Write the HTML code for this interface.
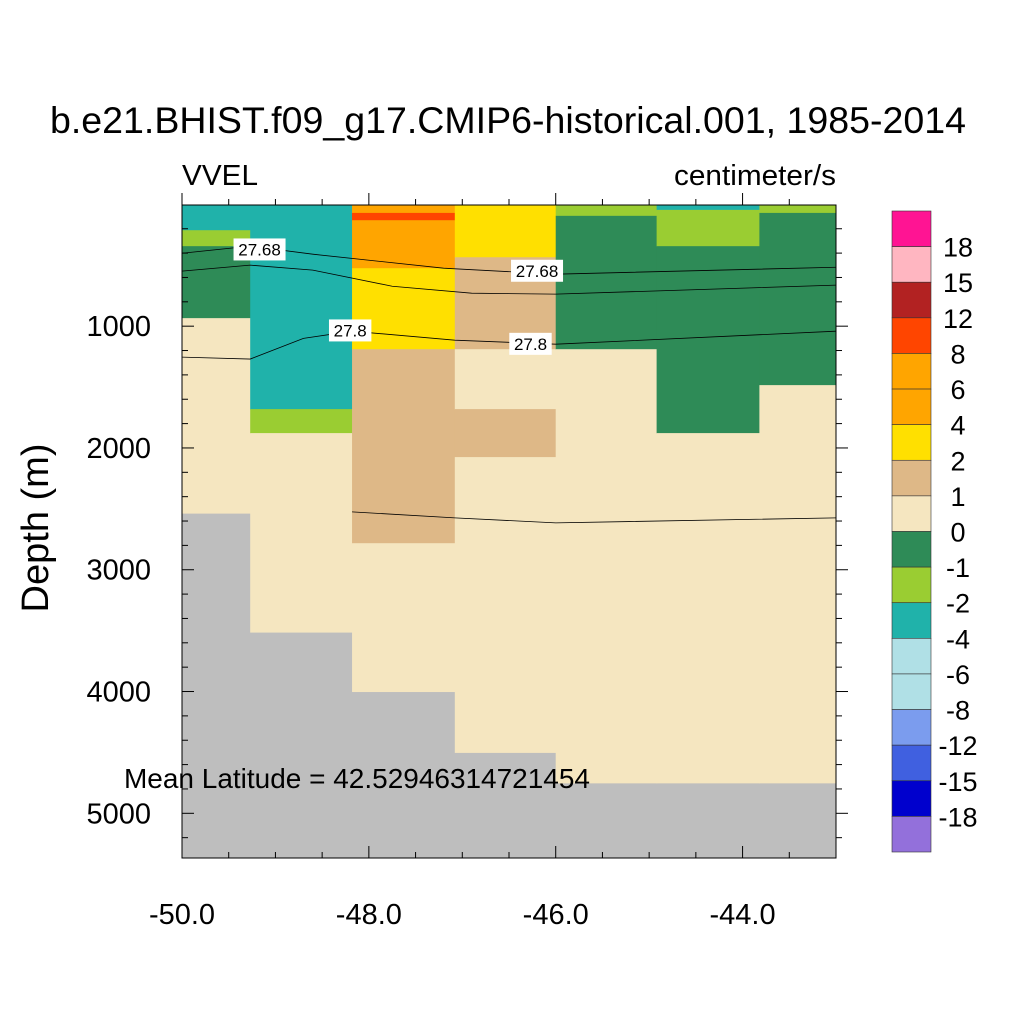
<!DOCTYPE html>
<html><head><meta charset="utf-8"><style>
body{margin:0;background:#fff;}
svg text{font-family:"Liberation Sans",sans-serif;fill:#000;}
</style></head><body>
<svg id="chart" width="1024" height="1024" viewBox="0 0 1024 1024" xmlns="http://www.w3.org/2000/svg">
<text x="508" y="133" font-size="37" text-anchor="middle" textLength="916" lengthAdjust="spacingAndGlyphs">b.e21.BHIST.f09_g17.CMIP6-historical.001, 1985-2014</text>
<text x="182" y="185" font-size="29" textLength="76" lengthAdjust="spacingAndGlyphs">VVEL</text>
<text x="836" y="185" font-size="29" text-anchor="end" textLength="162" lengthAdjust="spacingAndGlyphs">centimeter/s</text>
<text x="48" y="528" font-size="38" text-anchor="middle" transform="rotate(-90 48 528)">Depth (m)</text>
<g id="plot"></g>
<g id="axes"></g>
<g id="cbar"></g>
<text x="124" y="788" font-size="28" textLength="466" lengthAdjust="spacingAndGlyphs">Mean Latitude = 42.52946314721454</text>
</svg>
<script>
const NS="http://www.w3.org/2000/svg";
const cbLabels=["18","15","12","8","6","4","2","1","0","-1","-2","-4","-6","-8","-12","-15","-18"];
const cbColors=["#ff1493","#ffb6c1","#b22222","#ff4500","#ffa500","#ffa500","#ffe000","#deb887","#f5e6c0","#2e8b57","#9acd32","#20b2aa","#b0e0e6","#b0e0e6","#7b9cee","#4060e0","#0000cd","#9370db"];
const lonEdges=[-50,-49.27,-48.18,-47.08,-46,-44.92,-43.82,-43];
const col0=[[5,212,11],[212,343,10],[343,934,9],[934,2535,8]];
const col1=[[5,1681,11],[1681,1878,10],[1878,3512,8]];
const col2=[[5,70,5],[70,130,3],[130,524,4],[524,1189,6],[1189,2782,7],[2782,4000,8]];
const col3=[[5,434,6],[434,1189,7],[1189,1681,8],[1681,2075,7],[2075,4500,8]];
const col4=[[5,94,10],[94,1189,9],[1189,4750,8]];
const col5=[[5,45,11],[45,343,10],[343,1878,9],[1878,4750,8]];
const col6=[[5,70,10],[70,1484,9],[1484,4750,8]];
const columns=[col0,col1,col2,col3,col4,col5,col6];
const contourA=[[-50,401],[-49.27,343],[-48.6,409],[-47.2,524],[-46,573],[-43,516]];
const contourB=[[-50,548],[-49.27,499],[-48.6,540],[-47.75,672],[-46.9,729],[-46,737],[-43,663]];
const contourC=[[-50,1254],[-49.27,1270],[-48.7,1100],[-48.18,1041],[-47.08,1115],[-46,1148],[-43,1041]];
const contourD=[[-48.18,2525],[-47.08,2574],[-46,2615],[-43,2574]];
const labels=[["27.68",-49.17,370],["27.68",-46.2,545],["27.8",-48.2,1035],["27.8",-46.27,1145]];
const xTicks=[-50,-48,-46,-44];
const yTicks=[1000,2000,3000,4000,5000];

const X0=182,X1=836,Y0=205,Y1=858;
const LON0=-50,LON1=-43,D0=5,D1=5367;
const xs=l=>X0+(l-LON0)/(LON1-LON0)*(X1-X0);
const ys=d=>Y0+(d-D0)/(D1-D0)*(Y1-Y0);
function mk(tag,attrs,parent){const e=document.createElementNS(NS,tag);for(const k in attrs)e.setAttribute(k,attrs[k]);parent.appendChild(e);return e;}
const plot=document.getElementById('plot');
let bg=mk('rect',{x:X0,y:Y0,width:X1-X0,height:Y1-Y0,fill:'#bebebe'},plot);


columns.forEach((col,ci)=>{col.forEach((L,li)=>{
  const r=mk('rect',{x:xs(lonEdges[ci]),y:ys(L[0]),width:xs(lonEdges[ci+1])-xs(lonEdges[ci])+0.5,height:ys(L[1])-ys(L[0])+0.5,fill:cbColors[L[2]]},plot);
  
  
});});
[contourA,contourB,contourC,contourD].forEach((c,i)=>{
  const p=mk('polyline',{points:c.map(q=>xs(q[0])+','+ys(q[1])).join(' '),fill:'none',stroke:'#000','stroke-width':0.8},plot);
  
  
});
labels.forEach((l,i)=>{
  const x=xs(l[1]),y=ys(l[2]);const w=l[0].length*9.6+4;
  const r=mk('rect',{x:x-w/2,y:y-11,width:w,height:22,fill:'#fff'},plot);
  
  
  const t=mk('text',{x:x,y:y+6,'font-size':17,'text-anchor':'middle'},plot);t.textContent=l[0];
  
  
});
const ax=document.getElementById('axes');
let fr=mk('rect',{x:X0,y:Y0,width:X1-X0,height:Y1-Y0,fill:'none',stroke:'#000','stroke-width':1},ax);


for(let l=-50;l<=-43.01;l+=0.5){const x=xs(l);const maj=xTicks.some(t=>Math.abs(t-l)<1e-6);const len=maj?12:6;
  mk('line',{x1:x,x2:x,y1:Y0,y2:Y0-len,stroke:'#000'},ax);
  mk('line',{x1:x,x2:x,y1:Y1,y2:Y1-len,stroke:'#000'},ax);}
xTicks.forEach(t=>{const e=mk('text',{x:xs(t),y:924,'font-size':29,'text-anchor':'middle'},ax);e.textContent=t.toFixed(1);
  
  });
for(let d=200;d<=5300;d+=200){const y=ys(d);const maj=d%1000===0;const len=maj?12:6;
  mk('line',{x1:X0,x2:X0+len,y1:y,y2:y,stroke:'#000'},ax);
  mk('line',{x1:X1,x2:X1+len,y1:y,y2:y,stroke:'#000'},ax);}
yTicks.forEach(t=>{const e=mk('text',{x:151,y:ys(t)+10,'font-size':29,'text-anchor':'end'},ax);e.textContent=t;
  
  });
const cb=document.getElementById('cbar');const CX=892,CW=39,CY=211,CH=641,n=cbColors.length,bh=CH/n;
cbColors.forEach((c,i)=>{const r=mk('rect',{x:CX,y:CY+i*bh,width:CW,height:bh,fill:c,stroke:'#333','stroke-width':0.6},cb);
  
  });
cbLabels.forEach((l,i)=>{const t=mk('text',{x:958,y:CY+(i+1)*bh+10,'font-size':27,'text-anchor':'middle'},cb);t.textContent=l;
  
  });
</script>
</body></html>
